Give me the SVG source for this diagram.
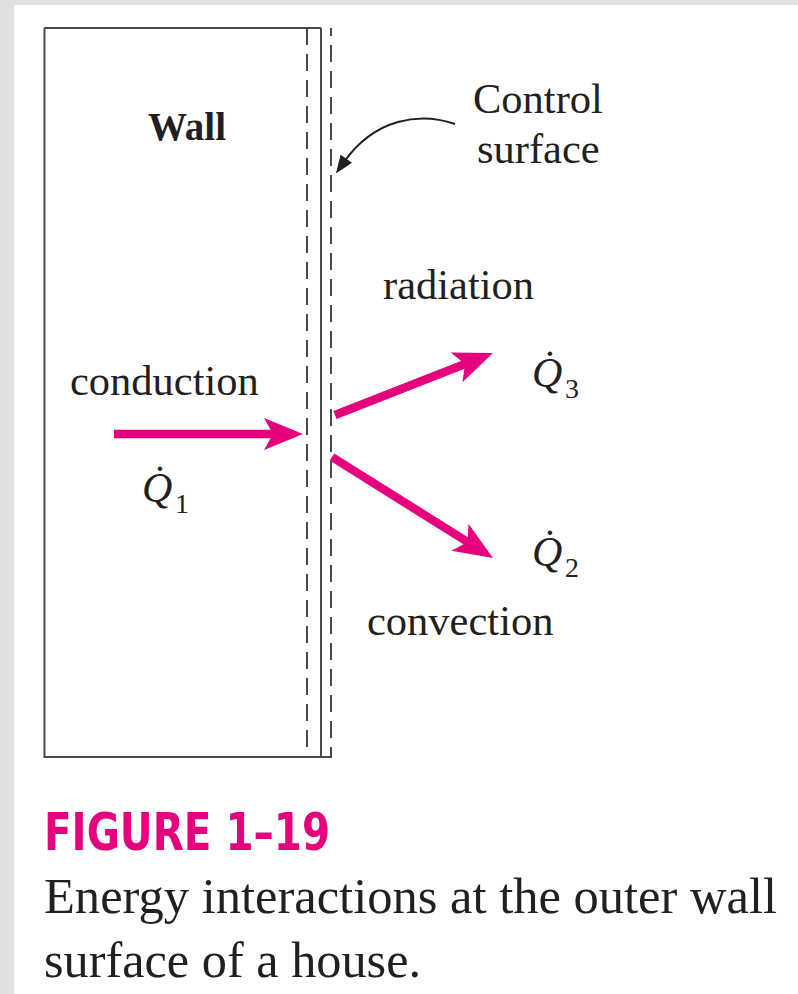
<svg xmlns="http://www.w3.org/2000/svg" width="798" height="994" viewBox="0 0 798 994">
  <style>
    .lbl { font-family: "Liberation Serif", "Times New Roman", serif; font-size: 42.5px; fill: #231f20; }
    .q { font-family: "Liberation Serif", "Times New Roman", serif; font-style: italic; font-size: 42px; fill: #231f20; }
    .sub { font-family: "Liberation Serif", "Times New Roman", serif; font-size: 28px; fill: #231f20; }
    .edge { stroke: #4a4a4a; stroke-width: 2; fill: none; }
    .dash { stroke: #4a4a4a; stroke-width: 2; fill: none; stroke-dasharray: 17 9; }
    .heat { stroke: #e5007d; stroke-width: 8.5; fill: none; marker-end: url(#pinkHead); }
    .cap { font-family: "Liberation Serif", "Times New Roman", serif; font-size: 50.3px; fill: #231f20; }
  </style>
  <defs>
    <marker id="pinkHead" markerUnits="userSpaceOnUse" markerWidth="60" markerHeight="60" viewBox="-20 -30 60 60" refX="0" refY="0" orient="auto" overflow="visible">
      <path d="M-9,-16 L30,0 L-9,16 L0,0 Z" fill="#e5007d"/>
    </marker>
    <marker id="darkHead" markerUnits="userSpaceOnUse" markerWidth="40" markerHeight="40" viewBox="-20 -20 40 40" refX="0" refY="0" orient="auto" overflow="visible">
      <path d="M-4,-7 L14,0 L-4,7 Z" fill="#231f20"/>
    </marker>
  </defs>

  <rect x="0" y="0" width="798" height="994" fill="#e0e0e0"/>
  <rect x="14" y="5" width="784" height="989" fill="#ffffff"/>

  <g id="wall">
    <path class="edge" d="M44.5,28 L321,28 M44.5,28 L44.5,757 L332,757 M321,28 L321,757"/>
    <text class="lbl" x="148" y="140" style="font-weight:bold; font-size:39px">Wall</text>
  </g>

  <g id="control-surface">
    <line class="dash" x1="307" y1="28" x2="307" y2="757"/>
    <line class="dash" x1="331" y1="28" x2="331" y2="757" stroke-dashoffset="9"/>
    <text class="lbl" x="473" y="113">Control</text>
    <text class="lbl" x="477" y="163">surface</text>
  </g>

  <g id="conduction">
    <text class="lbl" x="70" y="395">conduction</text>
    <text class="q" x="142" y="502">Q&#x307;</text>
    <text class="sub" x="175" y="513">1</text>
  </g>

  <g id="radiation">
    <text class="lbl" x="383" y="299">radiation</text>
    <text class="q" x="532" y="387">Q&#x307;</text>
    <text class="sub" x="565" y="398">3</text>
  </g>

  <g id="convection">
    <text class="lbl" x="367" y="635">convection</text>
    <text class="q" x="532" y="566">Q&#x307;</text>
    <text class="sub" x="565" y="577">2</text>
  </g>

  <g id="connectors">
    <line class="heat" x1="114" y1="434" x2="273" y2="434"/>
    <line class="heat" x1="335" y1="415" x2="465" y2="364"/>
    <line class="heat" x1="332" y1="457" x2="467.6" y2="542"/>
    <path d="M455,124 C420,112 375,118 344,162" stroke="#231f20" stroke-width="2" fill="none" marker-end="url(#darkHead)"/>
  </g>

  <g id="caption">
    <text x="44" y="850" font-family="'DejaVu Sans Condensed', 'DejaVu Sans', sans-serif" font-weight="bold" font-size="52" fill="#e5007d" textLength="286" lengthAdjust="spacingAndGlyphs">FIGURE 1–19</text>
    <text class="cap" x="44" y="913" textLength="733" lengthAdjust="spacingAndGlyphs">Energy interactions at the outer wall</text>
    <text class="cap" x="44" y="977">surface of a house.</text>
  </g>
</svg>
